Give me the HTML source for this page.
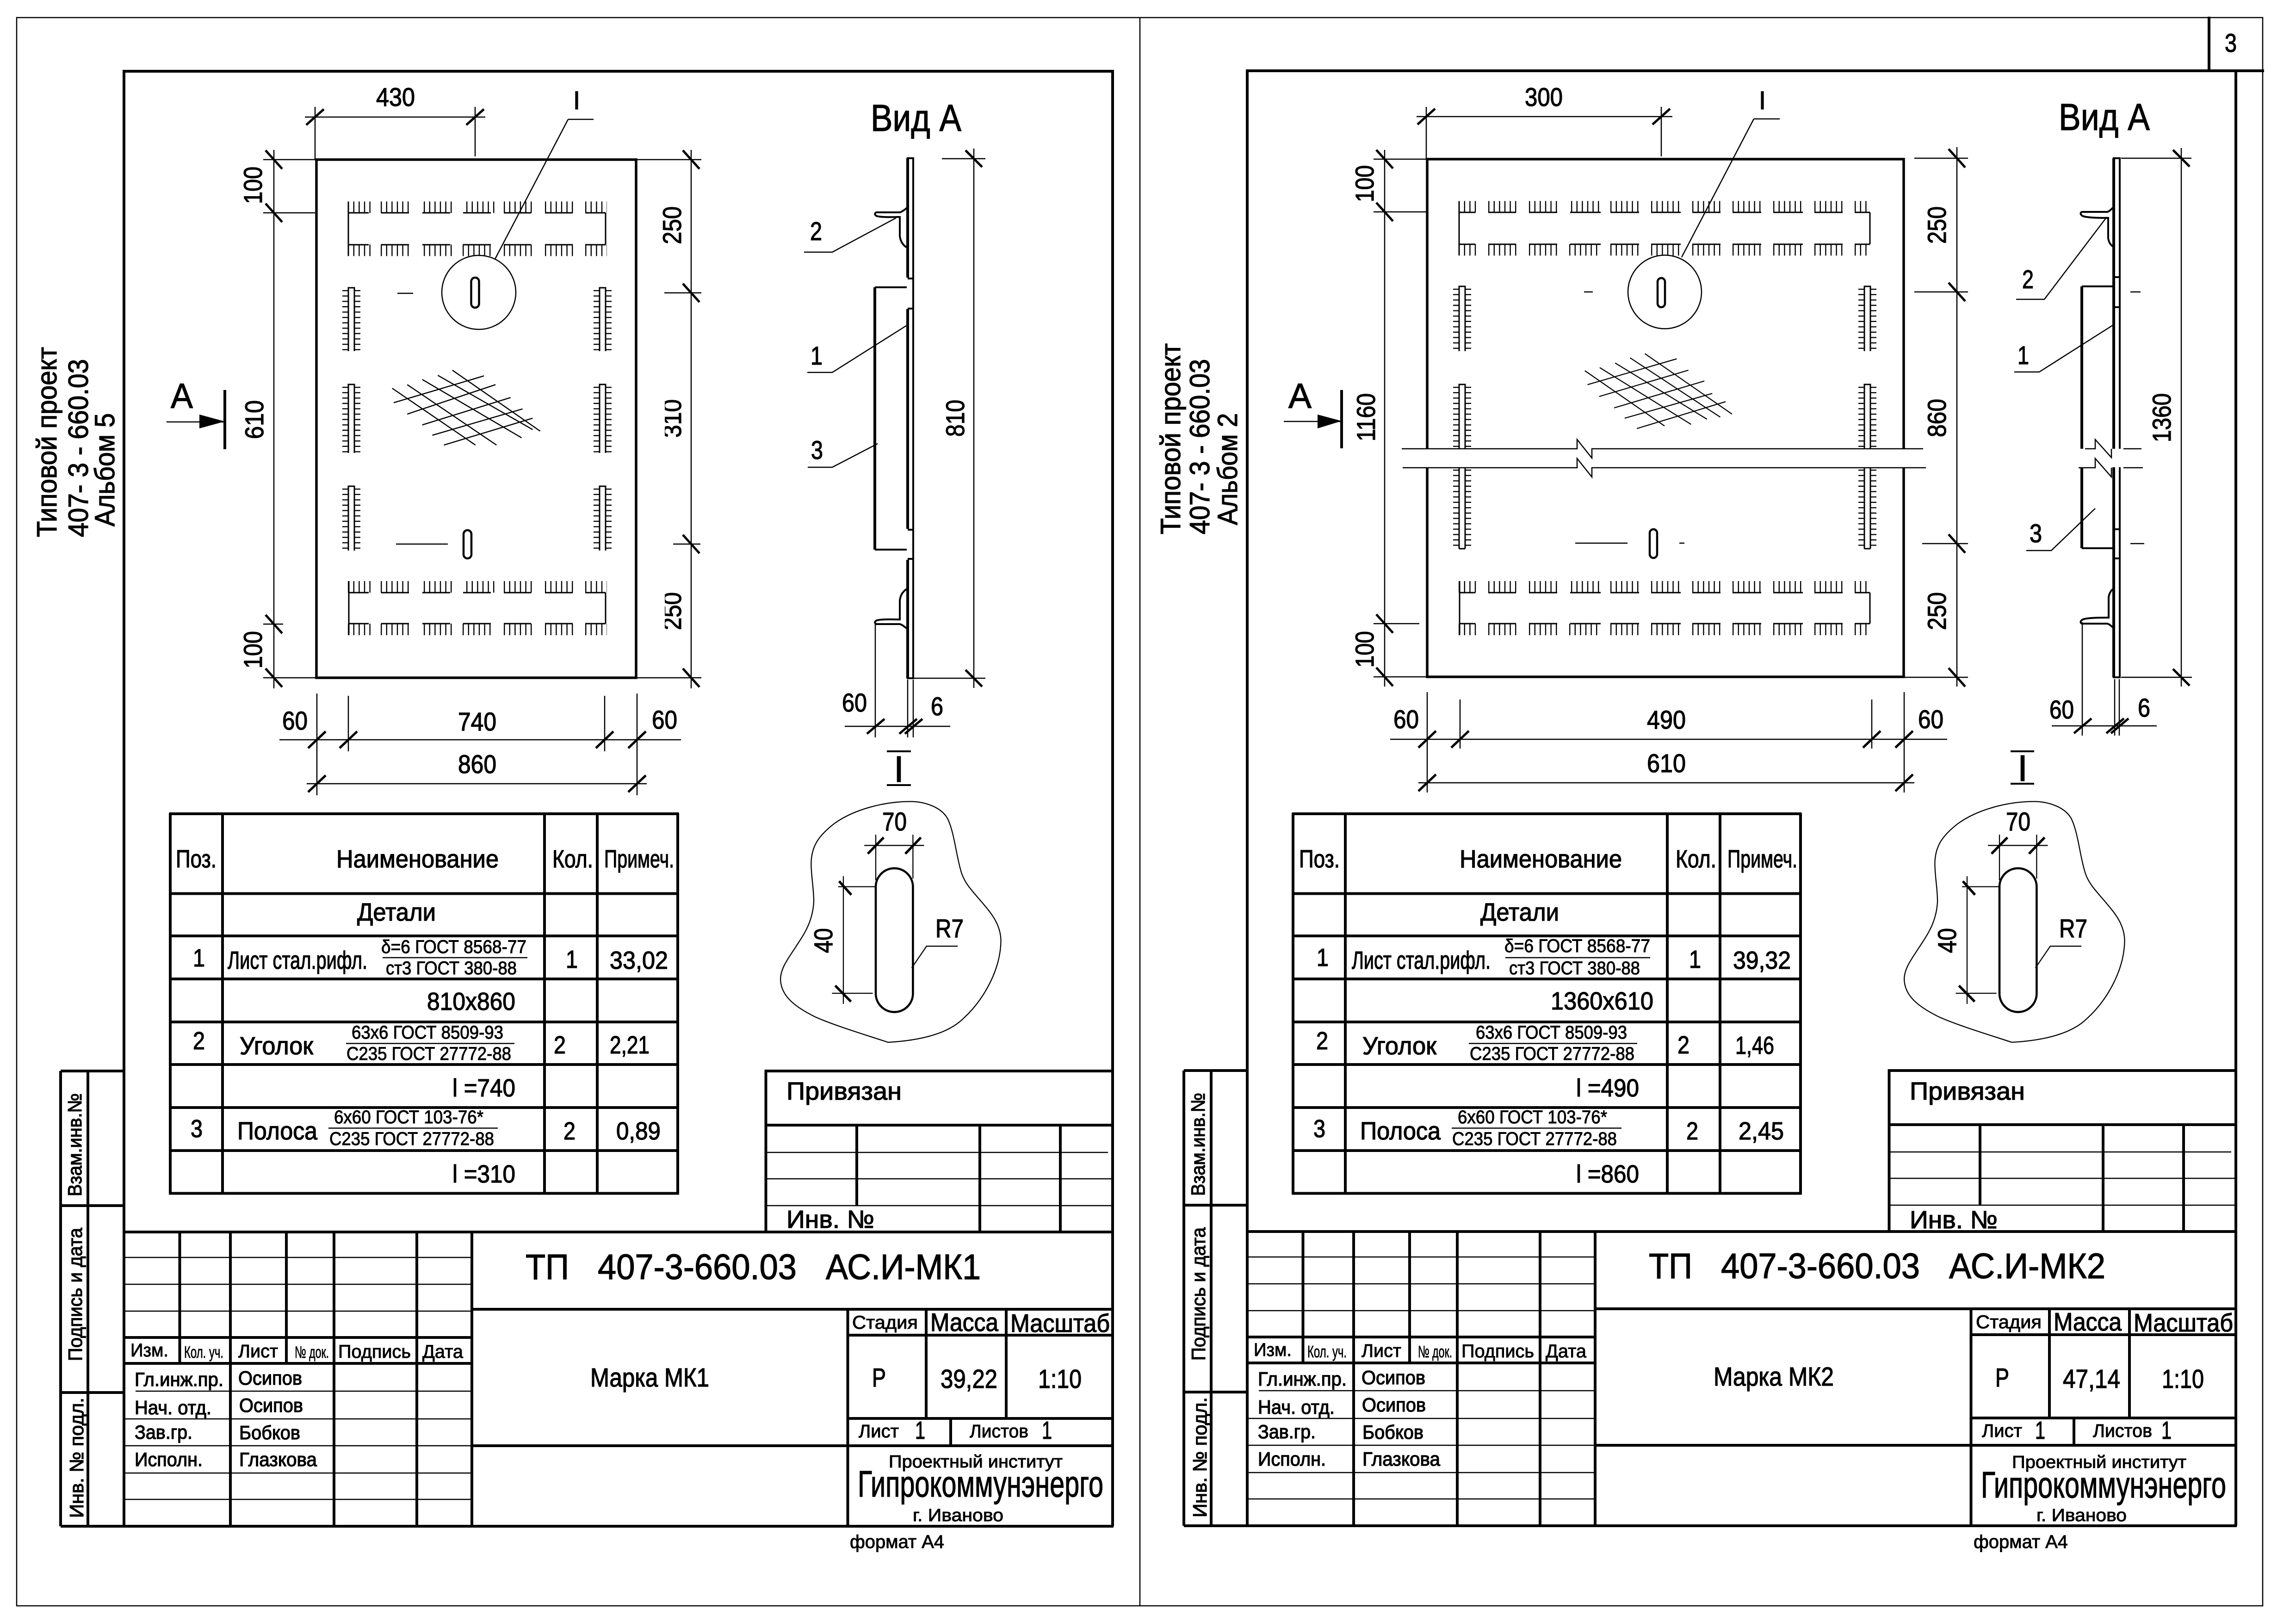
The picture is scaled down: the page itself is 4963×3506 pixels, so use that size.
<!DOCTYPE html>
<html lang="ru"><head><meta charset="utf-8"><title>ТП 407-3-660.03</title>
<style>
html,body{margin:0;padding:0;background:#fff}
svg{display:block}
text{font-family:"Liberation Sans","Noto Sans CJK SC",sans-serif;fill:#000;stroke:#000;stroke-width:1.3}
path,line,circle,rect.o{fill:none;stroke:#000;stroke-width:2.5}
.k{stroke-width:6}
.m{stroke-width:4}
.n{stroke-width:3}
.tk{stroke-width:5}
.d{stroke-width:25;stroke-dasharray:2.4 9.2}
.e{stroke-width:13;stroke-dasharray:2.4 9.2}
.f{fill:#000;stroke:none}
.w{fill:#fff;stroke:none}
.a{font-size:56px}.b{font-size:42px}.c{font-size:40px;stroke-width:1}.g{font-size:54px}.h{font-size:36px;stroke-width:.8}.j{font-size:60px}
</style></head><body>
<svg xmlns="http://www.w3.org/2000/svg" width="4963" height="3506" viewBox="0 0 4963 3506">
<rect width="4963" height="3506" fill="#fff"/>
<defs>
<g id="tbl">
<path class="k" d="M368 1757V2582M481 1757V2582M1177 1757V2582M1291 1757V2582M1465 1757V2582M366 1759H1467M366 1931.500H1467M366 2023H1467M366 2116H1467M366 2209H1467M366 2301H1467M366 2394H1467M366 2487H1467M366 2579.500H1467"/>
</g>
<g id="stamp">
<path class="k" d="M268 3299V154H2405V3299M131 2315V3299M190 2315V3299M131 2315H268M131 2606H268M131 3010H268M131 3299H2407M268 2663H2407M268 2891H1020M268 2947H1020M388.500 2663V2947M498 2663V3299M619 2663V2947M722 2663V3299M901 2663V3299M1020 2663V3299M1020 2830H2407M1020 3125H2407M1832.500 2830V3299M1832.500 2886H2407M1832.500 3066H2407M2002 2830V3066M2175 2830V3066M2055 3066V3125M1655.500 2663V2315H2407M1655.500 2432H2407M1852 2432V2607M2118 2432V2663M2292 2432V2663"/>
<path d="M268 2718H1018M268 2776H1018M268 2834H1018M293 3007H1018M268 3067H1018M268 3125H1018M268 3184H1018M268 3241H1018M1657 2491H2395M1657 2548H2405M1657 2606H2405"/>
</g>
<g id="detail">
<g transform="translate(1650 1700) scale(.3827)">
<path style="stroke-width:6" d="M705 1445C880 1435 1040 1400 1130 1310C1240 1210 1340 1040 1342 870C1340 780 1290 720 1240 660C1180 590 1140 550 1120 490C1090 400 1080 260 1040 180C1000 110 900 85 830 85C680 85 510 130 400 210C310 280 270 340 270 440C272 520 285 580 285 650C280 750 240 820 200 880C150 960 97 1020 97 1090C100 1180 170 1240 290 1300C400 1350 600 1410 705 1445Z"/>
<rect x="635" y="462" width="210" height="812" rx="105" style="fill:none;stroke:#000;stroke-width:12"/>
<path style="stroke-width:6" d="M570 333H908M635 272V530M845 272V520M452 507V1228M423 566H632M388 1168H618M838 1025L922 902H1098"/>
<path style="stroke-width:14" d="M590 380L680 288M802 380L890 288M428 535L497 612M406 1125L495 1215"/>
</g>
</g>
</defs>

<!-- outer sheet -->
<path style="stroke-width:2.500" d="M36 38H4891V3471H36ZM2464 38V3471"/>

<!-- ===== SHEET 1 frames and tables ===== -->
<use href="#stamp"/>
<use href="#tbl"/>
<path d="M827 2070H1140M748 2255.500H1112M710 2438.500H1076"/>

<!-- plate 1 -->
<rect class="o" x="684" y="345" width="691" height="1120" style="stroke-width:5.500"/>
<circle cx="1035" cy="632" r="80"/>
<rect x="1018.500" y="600" width="17" height="65" rx="8.500" style="fill:none;stroke:#000;stroke-width:4.500"/>
<rect x="1002" y="1146" width="17" height="61" rx="8.500" style="fill:none;stroke:#000;stroke-width:4.500"/>
<path d="M859 634H893M856 1176H968M1228 258H1283M1228 258L1070 560"/>
<!-- combs 1 -->
<path class="n" d="M753 460H797M824 460H884M913 460H973M1001 460H1061M1089 460H1148M1178 460H1238M1265 460H1309M753 529H797M824 529H884M913 529H973M1001 529H1061M1089 529H1148M1178 529H1238M1265 529H1309M753 436V553M1309 460V529M753 1281H797M824 1281H884M913 1281H973M1001 1281H1061M1089 1281H1148M1178 1281H1238M1265 1281H1309M753 1348H797M824 1348H884M913 1348H973M1001 1348H1061M1089 1348H1148M1178 1348H1238M1265 1348H1309M754 1256V1373M1309 1281V1348"/>
<path class="d" d="M752 448H801M823 448H885M916 448H977M1008 448H1069M1089 448H1150M1178 448H1240M1265 448H1312M752 541H801M823 541H885M916 541H977M1000 541H1069M1089 541H1150M1178 541H1240M1265 541H1312M752 1268.500H801M823 1268.500H885M916 1268.500H977M1008 1268.500H1069M1089 1268.500H1150M1178 1268.500H1240M1265 1268.500H1312M752 1360.500H801M823 1360.500H885M916 1360.500H977M1000 1360.500H1069M1089 1360.500H1150M1178 1360.500H1240M1265 1360.500H1312"/>
<path class="n" d="M753 759V622H766V759M753 979V831H766V979M753 1190V1051H766V1190M1296 759V622H1309V759M1296 979V831H1309V979M1296 1190V1051H1309V1190"/>
<path class="e" d="M746.500 627V759M772.500 627V759M746.500 836V979M772.500 836V979M746.500 1056V1190M772.500 1056V1190M1289.500 627V759M1315.500 627V759M1289.500 836V979M1315.500 836V979M1289.500 1056V1190M1315.500 1056V1190"/>
<!-- grid 1 -->
<g transform="scale(1.0841 1.116)"><path style="stroke-width:2.200" d="M782 752L948 862M812 745L990 862M842 735L1040 848M873 727L1062 832M902 717L1077 835M785 780L965 728M812 802L988 745M842 823L1018 770M862 843L1042 792M885 862L1062 810"/></g>
<!-- dims 1 -->
<path d="M659 253H1049M681 231V345M1027 231V338M592 324V1488M569 345H684M569 460H681M569 1349H612M569 1465H684M1494 324V1488M1375 345H1516M1436 633H1516M1455 1176H1514M1375 1465H1516M604 1599H1472M663 1694H1398M685 1499V1719M753 1504V1624M1307 1504V1624M1377 1499V1719M360 912H486"/>
<path class="tk" d="M662 270L700 236M1008 270L1046 236M574 325L610 365M574 440L610 480M574 1329L610 1369M574 1445L610 1485M1476 325L1512 365M1476 613L1512 653M1476 1156L1512 1196M1476 1445L1512 1485M666 1617L704 1581M734 1617L772 1581M1288 1617L1326 1581M1358 1617L1396 1581M666 1712L704 1676M1358 1712L1396 1676"/>
<path class="k" d="M486 843V971"/>
<path class="f" d="M431 896L486 911L431 926Z"/>
<!-- view A 1 -->
<path class="k" d="M1962 342V600M1962 668V1143M1962 1210V1466M1891 621V1188"/>
<path class="m" d="M1974 342V1466M1960 342H1976M1960 1466H1976M1962 602H1974M1962 667H1974M1962 1145H1974M1962 1208H1974M1891 621H1960M1891 1188H1960"/>
<path class="m" d="M1962 448Q1950 458 1945 459L1894 459Q1888 463 1895 467Q1905 470 1940 469L1945 469V510Q1947 528 1962 536"/>
<path class="m" d="M1962 1360Q1950 1350 1945 1349L1894 1349Q1888 1345 1895 1341Q1905 1338 1940 1339L1945 1339V1298Q1947 1280 1962 1272"/>
<path d="M2105 321V1487M2036 343H2130M1974 1466H2130M1826 1570H2054M1892 1349V1594M1962 1469V1594M1974 1469V1594M1738 545H1799L1937 471M1745 805H1799L1959 704M1746 1010H1799L1897 959"/>
<path class="tk" d="M2087 325L2123 361M2087 1448L2123 1484M1874 1586L1912 1554M1944 1586L1982 1554M1956 1586L1994 1554"/>
<path class="m" d="M1917 1624H1969M1917 1697H1969"/>
<use href="#detail"/>

<!-- ===== SHEET 2 frames and tables ===== -->
<use href="#stamp" transform="translate(2428 -1)"/>
<use href="#tbl" transform="translate(2427 0)"/>
<path d="M3254 2070H3567M3175 2255.500H3539M3138 2438.500H3505"/>
<path class="k" d="M4833 153H4894M4775 36V153"/>
<!-- plate 2 -->
<path style="stroke-width:5.500" d="M3085 969V344H4115V969M3085 1010V1463H4115V1010"/>
<circle cx="3598.500" cy="631" r="79.500"/>
<rect x="3583" y="601" width="16" height="63" rx="8" style="fill:none;stroke:#000;stroke-width:4.500"/>
<rect x="3566" y="1144" width="16" height="62" rx="8" style="fill:none;stroke:#000;stroke-width:4.500"/>
<path d="M3424 631H3443M3405 1174H3518M3630 1174H3641M3791 257H3847M3791 257L3635 556"/>
<path d="M3030 970H3409V950L3441 990V970H4157M3032 1011H3409V991L3441 1031V1011H4163"/>
<!-- combs 2 -->
<path class="n" d="M3154 459H3189M3217 459H3277M3305 459H3366M3394 459H3460M3481 459H3543M3569 459H3633M3658 459H3719M3745 459H3807M3833 459H3897M3922 459H3983M4009 459H4042M3154 528H3189M3217 528H3277M3305 528H3366M3394 528H3460M3481 528H3543M3569 528H3633M3658 528H3719M3745 528H3807M3833 528H3897M3922 528H3983M4009 528H4042M3154 435V552M4042 459V528M3154 1281H3189M3217 1281H3277M3305 1281H3366M3394 1281H3460M3481 1281H3543M3569 1281H3633M3658 1281H3719M3745 1281H3807M3833 1281H3897M3922 1281H3983M4009 1281H4042M3154 1348H3189M3217 1348H3277M3305 1348H3366M3394 1348H3460M3481 1348H3543M3569 1348H3633M3658 1348H3719M3745 1348H3807M3833 1348H3897M3922 1348H3983M4009 1348H4042M3155 1256V1373M4042 1281V1348"/>
<path class="d" d="M3153 447H3191M3217 447H3279M3305 447H3368M3396 447H3460M3481 447H3543M3569 447H3633M3658 447H3721M3745 447H3807M3833 447H3897M3922 447H3985M4009 447H4035M3153 540H3191M3217 540H3279M3305 540H3368M3392 540H3460M3481 540H3543M3569 540H3633M3658 540H3721M3745 540H3807M3833 540H3897M3922 540H3985M4009 540H4035M3153 1268.500H3191M3217 1268.500H3279M3305 1268.500H3368M3396 1268.500H3460M3481 1268.500H3543M3569 1268.500H3633M3658 1268.500H3721M3745 1268.500H3807M3833 1268.500H3897M3922 1268.500H3985M4009 1268.500H4035M3153 1360.500H3191M3217 1360.500H3279M3305 1360.500H3368M3392 1360.500H3460M3481 1360.500H3543M3569 1360.500H3633M3658 1360.500H3721M3745 1360.500H3807M3833 1360.500H3897M3922 1360.500H3985M4009 1360.500H4035"/>
<path class="n" d="M3154 759V619H3167V759M3154 969V831H3167V969M3154 1186V1011M3167 1186V1011M3154 1186H3167M4030 759V619H4043V759M4030 969V831H4043V969M4030 1186V1011M4043 1186V1011M4030 1186H4043"/>
<path class="e" d="M3147.500 624V759M3173.500 624V759M3147.500 836V969M3173.500 836V969M3147.500 1015V1186M3173.500 1015V1186M4023.500 624V759M4049.500 624V759M4023.500 836V969M4049.500 836V969M4023.500 1015V1186M4049.500 1015V1186"/>
<!-- grid 2 -->
<g transform="translate(2450 0) scale(1.148 1.116)"><path style="stroke-width:2" d="M850 718L1000 825M878 712L1050 822M907 703L1080 812M935 693L1105 808M963 685L1127 802M948 830L1115 778M925 810L1090 762M905 790L1075 738M877 768L1045 717M855 745L1023 695"/></g>
<!-- dims 2 -->
<path d="M3062 252H3615M3083 231V344M3591 231V338M2993 324V1484M2969 344H3085M2969 458H3084M2969 1348H3068M2969 1463H3085M4230 318V1484M4138 342H4254M4138 631H4254M4155 1175H4254M4115 1464H4254M3005 1598H4209M3066 1692H4138M3085 1496V1713M3156 1512V1618M4046 1512V1618M4116 1496V1713M2775 911H2900"/>
<path class="tk" d="M3064 269L3102 235M3572 269L3610 235M2975 324L3011 364M2975 438L3011 478M2975 1328L3011 1368M2975 1443L3011 1483M4212 322L4248 362M4212 611L4248 651M4212 1155L4248 1195M4212 1444L4248 1484M3066 1616L3104 1580M3137 1616L3175 1580M4027 1616L4065 1580M4097 1616L4135 1580M3066 1710L3104 1674M4097 1710L4135 1674"/>
<path class="k" d="M2900 843V969"/>
<path class="f" d="M2848 896L2900 910L2848 926Z"/>
<!-- view A 2 -->
<path class="k" d="M4569 342V970M4569 1010V1464M4500 619V970M4500 1010V1185"/>
<path class="m" d="M4582 342V970M4582 1010V1464M4567 342H4584M4567 1464H4584M4569 599H4582M4569 664H4582M4569 1144H4582M4569 1207H4582M4500 619H4567M4500 1185H4567"/>
<path class="m" d="M4569 447Q4560 457 4555 458L4500 458Q4494 462 4502 467Q4512 471 4552 471L4557 471V515Q4559 528 4569 534"/>
<path class="m" d="M4569 1358Q4560 1349 4555 1348L4500 1348Q4494 1344 4502 1339Q4512 1335 4552 1335L4558 1335V1291Q4560 1278 4569 1272"/>
<path d="M4507 970H4529V950L4564 989V970M4590 970H4629M4493 1011H4529V991L4564 1031V1011M4590 1011H4632M4715 320V1484M4585 342H4737M4585 1464H4738M4605 631H4627M4605 1175H4635M4435 1569H4662M4501 1345V1590M4571 1468V1590M4581 1468V1590M4358 647H4419L4554 469M4354 804H4408L4567 703M4380 1190H4434L4529 1099"/>
<path class="tk" d="M4697 324L4733 360M4697 1446L4733 1482M4483 1585L4521 1553M4553 1585L4591 1553M4563 1585L4601 1553"/>
<path class="m" d="M4346 1624H4397M4346 1694H4397"/>
<use href="#detail" transform="translate(2429 0)"/>

<!-- ===== TEXT SHEET 1 ===== -->
<g>
<text class="j" transform="rotate(-90 122 1161)" x="122" y="1161" textLength="411" lengthAdjust="spacingAndGlyphs">Типовой проект</text>
<text class="j" transform="rotate(-90 190 1161)" x="190" y="1161" textLength="385" lengthAdjust="spacingAndGlyphs">407- 3 - 660.03</text>
<text class="j" transform="rotate(-90 247 1138)" x="247" y="1138" textLength="245" lengthAdjust="spacingAndGlyphs">Альбом 5</text>
<text style="font-size:76px" x="369" y="882" textLength="48" lengthAdjust="spacingAndGlyphs">А</text>
<text class="a" x="813" y="229" textLength="84" lengthAdjust="spacingAndGlyphs">430</text>
<text class="a" x="1239" y="236" textLength="15" lengthAdjust="spacingAndGlyphs">I</text>
<text class="a" transform="rotate(-90 566 441)" x="566" y="441" textLength="81" lengthAdjust="spacingAndGlyphs">100</text>
<text class="a" transform="rotate(-90 569 949)" x="569" y="949" textLength="84" lengthAdjust="spacingAndGlyphs">610</text>
<text class="a" transform="rotate(-90 566 1445)" x="566" y="1445" textLength="81" lengthAdjust="spacingAndGlyphs">100</text>
<text class="a" transform="rotate(-90 1472 528)" x="1472" y="528" textLength="82" lengthAdjust="spacingAndGlyphs">250</text>
<text class="a" x="610" y="1577" textLength="55" lengthAdjust="spacingAndGlyphs">60</text>
<text class="a" x="990" y="1579" textLength="83" lengthAdjust="spacingAndGlyphs">740</text>
<text class="a" x="1409" y="1575" textLength="55" lengthAdjust="spacingAndGlyphs">60</text>
<text class="a" x="990" y="1671" textLength="83" lengthAdjust="spacingAndGlyphs">860</text>
<text style="font-size:82px" x="1882" y="283" textLength="196" lengthAdjust="spacingAndGlyphs">Вид А</text>
<text class="a" x="1751" y="519" textLength="26" lengthAdjust="spacingAndGlyphs">2</text>
<text class="a" x="1752" y="788" textLength="26" lengthAdjust="spacingAndGlyphs">1</text>
<text class="a" x="1753" y="992" textLength="26" lengthAdjust="spacingAndGlyphs">3</text>
<text class="a" transform="rotate(-90 2084 944)" x="2084" y="944" textLength="80" lengthAdjust="spacingAndGlyphs">810</text>
<text class="a" x="1820" y="1538" textLength="54" lengthAdjust="spacingAndGlyphs">60</text>
<text class="a" x="2012" y="1546" textLength="27" lengthAdjust="spacingAndGlyphs">6</text>
<text style="font-size:80px" x="1932" y="1690" textLength="22" lengthAdjust="spacingAndGlyphs">I</text>
<text class="a" x="1907" y="1795" textLength="53" lengthAdjust="spacingAndGlyphs">70</text>
<text class="a" transform="rotate(-90 1799 2060)" x="1799" y="2060" textLength="54" lengthAdjust="spacingAndGlyphs">40</text>
<text class="a" x="2022" y="2026" textLength="61" lengthAdjust="spacingAndGlyphs">R7</text>
<!-- table 1 -->
<text class="g" x="380" y="1875" textLength="88" lengthAdjust="spacingAndGlyphs">Поз.</text>
<text class="g" x="727" y="1875" textLength="351" lengthAdjust="spacingAndGlyphs">Наименование</text>
<text class="g" x="1194" y="1875" textLength="88" lengthAdjust="spacingAndGlyphs">Кол.</text>
<text class="g" x="1306" y="1875" textLength="151" lengthAdjust="spacingAndGlyphs">Примеч.</text>
<text class="g" x="772" y="1990" textLength="170" lengthAdjust="spacingAndGlyphs">Детали</text>
<text class="g" x="417" y="2089" textLength="26" lengthAdjust="spacingAndGlyphs">1</text>
<text class="g" x="492" y="2094" textLength="302" lengthAdjust="spacingAndGlyphs">Лист стал.рифл.</text>
<text class="c" x="824" y="2060" textLength="314" lengthAdjust="spacingAndGlyphs">δ=6 ГОСТ 8568-77</text>
<text class="c" x="834" y="2106" textLength="283" lengthAdjust="spacingAndGlyphs">ст3 ГОСТ 380-88</text>
<text class="g" x="1223" y="2092" textLength="26" lengthAdjust="spacingAndGlyphs">1</text>
<text class="g" x="1318" y="2094" textLength="126" lengthAdjust="spacingAndGlyphs">33,02</text>
<text class="g" x="923" y="2183" textLength="191" lengthAdjust="spacingAndGlyphs">810х860</text>
<text class="g" x="417" y="2268" textLength="26" lengthAdjust="spacingAndGlyphs">2</text>
<text class="g" x="518" y="2279" textLength="159" lengthAdjust="spacingAndGlyphs">Уголок</text>
<text class="c" x="760" y="2245" textLength="328" lengthAdjust="spacingAndGlyphs">63х6 ГОСТ 8509-93</text>
<text class="c" x="749" y="2291" textLength="356" lengthAdjust="spacingAndGlyphs">С235 ГОСТ 27772-88</text>
<text class="g" x="1197" y="2277" textLength="26" lengthAdjust="spacingAndGlyphs">2</text>
<text class="g" x="1318" y="2277" textLength="86" lengthAdjust="spacingAndGlyphs">2,21</text>
<text class="g" x="978" y="2370" textLength="136" lengthAdjust="spacingAndGlyphs">l =740</text>
<text class="g" x="412" y="2458" textLength="26" lengthAdjust="spacingAndGlyphs">3</text>
<text class="g" x="513" y="2463" textLength="173" lengthAdjust="spacingAndGlyphs">Полоса</text>
<text class="c" x="722" y="2428" textLength="323" lengthAdjust="spacingAndGlyphs">6х60 ГОСТ 103-76*</text>
<text class="c" x="712" y="2475" textLength="356" lengthAdjust="spacingAndGlyphs">С235 ГОСТ 27772-88</text>
<text class="g" x="1218" y="2463" textLength="26" lengthAdjust="spacingAndGlyphs">2</text>
<text class="g" x="1332" y="2463" textLength="96" lengthAdjust="spacingAndGlyphs">0,89</text>
<text class="g" x="978" y="2556" textLength="136" lengthAdjust="spacingAndGlyphs">l =310</text>
<!-- strip 1 -->
<text class="b" transform="rotate(-90 176 2586)" x="176" y="2586" textLength="223" lengthAdjust="spacingAndGlyphs">Взам.инв.№</text>
<text class="b" transform="rotate(-90 177 2942)" x="177" y="2942" textLength="288" lengthAdjust="spacingAndGlyphs">Подпись и дата</text>
<text class="b" transform="rotate(-90 180 3281)" x="180" y="3281" textLength="260" lengthAdjust="spacingAndGlyphs">Инв. №  подл.</text>
<!-- stamp 1 -->
<text class="c" x="282" y="2932" textLength="82" lengthAdjust="spacingAndGlyphs">Изм.</text>
<text class="h" x="398" y="2935" textLength="85" lengthAdjust="spacingAndGlyphs">Кол. уч.</text>
<text class="c" x="515" y="2934" textLength="86" lengthAdjust="spacingAndGlyphs">Лист</text>
<text class="h" x="637" y="2935" textLength="74" lengthAdjust="spacingAndGlyphs">№ док.</text>
<text class="c" x="731" y="2935" textLength="157" lengthAdjust="spacingAndGlyphs">Подпись</text>
<text class="c" x="913" y="2935" textLength="88" lengthAdjust="spacingAndGlyphs">Дата</text>
<text class="b" x="291" y="2996" textLength="192" lengthAdjust="spacingAndGlyphs">Гл.инж.пр.</text>
<text class="b" x="515" y="2993" textLength="138" lengthAdjust="spacingAndGlyphs">Осипов</text>
<text class="b" x="291" y="3057" textLength="166" lengthAdjust="spacingAndGlyphs">Нач. отд.</text>
<text class="b" x="517" y="3052" textLength="138" lengthAdjust="spacingAndGlyphs">Осипов</text>
<text class="b" x="291" y="3110" textLength="125" lengthAdjust="spacingAndGlyphs">Зав.гр.</text>
<text class="b" x="517" y="3111" textLength="132" lengthAdjust="spacingAndGlyphs">Бобков</text>
<text class="b" x="291" y="3169" textLength="147" lengthAdjust="spacingAndGlyphs">Исполн.</text>
<text class="b" x="517" y="3169" textLength="168" lengthAdjust="spacingAndGlyphs">Глазкова</text>
<!-- title 1 -->
<text class="g" x="1700" y="2377" textLength="249" lengthAdjust="spacingAndGlyphs">Привязан</text>
<text class="g" x="1700" y="2654" textLength="190" lengthAdjust="spacingAndGlyphs">Инв. №</text>
<text style="font-size:77px" x="1136" y="2765" textLength="94" lengthAdjust="spacingAndGlyphs">ТП</text>
<text style="font-size:77px" x="1292" y="2765" textLength="430" lengthAdjust="spacingAndGlyphs">407-3-660.03</text>
<text style="font-size:77px" x="1785" y="2765" textLength="335" lengthAdjust="spacingAndGlyphs">АС.И-МК1</text>
<text style="font-size:57px" x="1276" y="2997" textLength="257" lengthAdjust="spacingAndGlyphs">Марка МК1</text>
<text class="c" x="1842" y="2872" textLength="142" lengthAdjust="spacingAndGlyphs">Стадия</text>
<text style="font-size:55px" x="2011" y="2877" textLength="147" lengthAdjust="spacingAndGlyphs">Масса</text>
<text style="font-size:55px" x="2184" y="2879" textLength="215" lengthAdjust="spacingAndGlyphs">Масштаб</text>
<text style="font-size:57px" x="1885" y="2997" textLength="30" lengthAdjust="spacingAndGlyphs">Р</text>
<text style="font-size:57px" x="2033" y="3000" textLength="123" lengthAdjust="spacingAndGlyphs">39,22</text>
<text style="font-size:57px" x="2244" y="3000" textLength="94" lengthAdjust="spacingAndGlyphs">1:10</text>
<text class="c" x="1856" y="3107" textLength="87" lengthAdjust="spacingAndGlyphs">Лист</text>
<text class="g" x="1978" y="3110" textLength="22" lengthAdjust="spacingAndGlyphs">1</text>
<text class="c" x="2096" y="3107" textLength="127" lengthAdjust="spacingAndGlyphs">Листов</text>
<text class="g" x="2252" y="3110" textLength="22" lengthAdjust="spacingAndGlyphs">1</text>
<text style="font-size:38px;stroke-width:1" x="1921" y="3172" textLength="376" lengthAdjust="spacingAndGlyphs">Проектный институт</text>
<text style="font-size:80px" x="1854" y="3235" textLength="531" lengthAdjust="spacingAndGlyphs">Гипрокоммунэнерго</text>
<text style="font-size:38px;stroke-width:1" x="1973" y="3288" textLength="196" lengthAdjust="spacingAndGlyphs">г. Иваново</text>
<text class="c" x="1837" y="3346" textLength="204" lengthAdjust="spacingAndGlyphs">формат А4</text>
</g>

<!-- ===== TEXT SHEET 2 ===== -->
<g>
<text class="j" transform="rotate(-90 2551 1155)" x="2551" y="1155" textLength="413" lengthAdjust="spacingAndGlyphs">Типовой проект</text>
<text class="j" transform="rotate(-90 2614 1155)" x="2614" y="1155" textLength="379" lengthAdjust="spacingAndGlyphs">407- 3 - 660.03</text>
<text class="j" transform="rotate(-90 2674 1135)" x="2674" y="1135" textLength="242" lengthAdjust="spacingAndGlyphs">Альбом 2</text>
<text style="font-size:76px" x="2785" y="882" textLength="50" lengthAdjust="spacingAndGlyphs">А</text>
<text class="a" x="3296" y="229" textLength="82" lengthAdjust="spacingAndGlyphs">300</text>
<text class="a" x="3802" y="236" textLength="15" lengthAdjust="spacingAndGlyphs">I</text>
<text class="a" transform="rotate(-90 2969 437)" x="2969" y="437" textLength="80" lengthAdjust="spacingAndGlyphs">100</text>
<text class="a" transform="rotate(-90 2972 954)" x="2972" y="954" textLength="104" lengthAdjust="spacingAndGlyphs">1160</text>
<text class="a" transform="rotate(-90 2969 1443)" x="2969" y="1443" textLength="79" lengthAdjust="spacingAndGlyphs">100</text>
<text class="a" transform="rotate(-90 4206 527)" x="4206" y="527" textLength="81" lengthAdjust="spacingAndGlyphs">250</text>
<text class="a" transform="rotate(-90 4206 945)" x="4206" y="945" textLength="83" lengthAdjust="spacingAndGlyphs">860</text>
<text class="a" transform="rotate(-90 4206 1362)" x="4206" y="1362" textLength="82" lengthAdjust="spacingAndGlyphs">250</text>
<text class="a" x="3012" y="1574" textLength="55" lengthAdjust="spacingAndGlyphs">60</text>
<text class="a" x="3560" y="1575" textLength="84" lengthAdjust="spacingAndGlyphs">490</text>
<text class="a" x="4146" y="1574" textLength="55" lengthAdjust="spacingAndGlyphs">60</text>
<text class="a" x="3560" y="1669" textLength="84" lengthAdjust="spacingAndGlyphs">610</text>
<text style="font-size:82px" x="4450" y="281" textLength="197" lengthAdjust="spacingAndGlyphs">Вид А</text>
<text class="a" x="4371" y="623" textLength="25" lengthAdjust="spacingAndGlyphs">2</text>
<text class="a" x="4361" y="787" textLength="25" lengthAdjust="spacingAndGlyphs">1</text>
<text class="a" x="4387" y="1172" textLength="27" lengthAdjust="spacingAndGlyphs">3</text>
<text class="a" transform="rotate(-90 4692 956)" x="4692" y="956" textLength="106" lengthAdjust="spacingAndGlyphs">1360</text>
<text class="a" x="4430" y="1553" textLength="53" lengthAdjust="spacingAndGlyphs">60</text>
<text class="a" x="4621" y="1549" textLength="27" lengthAdjust="spacingAndGlyphs">6</text>
<text style="font-size:80px" x="4361" y="1688" textLength="22" lengthAdjust="spacingAndGlyphs">I</text>
<text class="a" x="4336" y="1795" textLength="53" lengthAdjust="spacingAndGlyphs">70</text>
<text class="a" transform="rotate(-90 4228 2060)" x="4228" y="2060" textLength="54" lengthAdjust="spacingAndGlyphs">40</text>
<text class="a" x="4451" y="2026" textLength="61" lengthAdjust="spacingAndGlyphs">R7</text>
<text class="a" x="4809" y="112" textLength="26" lengthAdjust="spacingAndGlyphs">3</text>
<!-- table 2 -->
<text class="g" x="2808" y="1875" textLength="88" lengthAdjust="spacingAndGlyphs">Поз.</text>
<text class="g" x="3155" y="1875" textLength="351" lengthAdjust="spacingAndGlyphs">Наименование</text>
<text class="g" x="3622" y="1875" textLength="88" lengthAdjust="spacingAndGlyphs">Кол.</text>
<text class="g" x="3734" y="1875" textLength="151" lengthAdjust="spacingAndGlyphs">Примеч.</text>
<text class="g" x="3200" y="1990" textLength="170" lengthAdjust="spacingAndGlyphs">Детали</text>
<text class="g" x="2846" y="2088" textLength="26" lengthAdjust="spacingAndGlyphs">1</text>
<text class="g" x="2922" y="2094" textLength="300" lengthAdjust="spacingAndGlyphs">Лист стал.рифл.</text>
<text class="c" x="3252" y="2058" textLength="315" lengthAdjust="spacingAndGlyphs">δ=6 ГОСТ 8568-77</text>
<text class="c" x="3262" y="2106" textLength="283" lengthAdjust="spacingAndGlyphs">ст3 ГОСТ 380-88</text>
<text class="g" x="3651" y="2092" textLength="26" lengthAdjust="spacingAndGlyphs">1</text>
<text class="g" x="3746" y="2094" textLength="125" lengthAdjust="spacingAndGlyphs">39,32</text>
<text class="g" x="3352" y="2182" textLength="222" lengthAdjust="spacingAndGlyphs">1360х610</text>
<text class="g" x="2845" y="2268" textLength="26" lengthAdjust="spacingAndGlyphs">2</text>
<text class="g" x="2945" y="2279" textLength="160" lengthAdjust="spacingAndGlyphs">Уголок</text>
<text class="c" x="3190" y="2245" textLength="327" lengthAdjust="spacingAndGlyphs">63х6 ГОСТ 8509-93</text>
<text class="c" x="3177" y="2291" textLength="356" lengthAdjust="spacingAndGlyphs">С235 ГОСТ 27772-88</text>
<text class="g" x="3626" y="2277" textLength="26" lengthAdjust="spacingAndGlyphs">2</text>
<text class="g" x="3751" y="2278" textLength="84" lengthAdjust="spacingAndGlyphs">1,46</text>
<text class="g" x="3407" y="2370" textLength="136" lengthAdjust="spacingAndGlyphs">l =490</text>
<text class="g" x="2839" y="2458" textLength="26" lengthAdjust="spacingAndGlyphs">3</text>
<text class="g" x="2940" y="2463" textLength="174" lengthAdjust="spacingAndGlyphs">Полоса</text>
<text class="c" x="3151" y="2428" textLength="323" lengthAdjust="spacingAndGlyphs">6х60 ГОСТ 103-76*</text>
<text class="c" x="3139" y="2475" textLength="356" lengthAdjust="spacingAndGlyphs">С235 ГОСТ 27772-88</text>
<text class="g" x="3645" y="2463" textLength="26" lengthAdjust="spacingAndGlyphs">2</text>
<text class="g" x="3758" y="2463" textLength="98" lengthAdjust="spacingAndGlyphs">2,45</text>
<text class="g" x="3407" y="2556" textLength="136" lengthAdjust="spacingAndGlyphs">l =860</text>
<!-- strip 2 -->
<text class="b" transform="rotate(-90 2604 2585)" x="2604" y="2585" textLength="223" lengthAdjust="spacingAndGlyphs">Взам.инв.№</text>
<text class="b" transform="rotate(-90 2605 2941)" x="2605" y="2941" textLength="288" lengthAdjust="spacingAndGlyphs">Подпись и дата</text>
<text class="b" transform="rotate(-90 2608 3280)" x="2608" y="3280" textLength="260" lengthAdjust="spacingAndGlyphs">Инв. №  подл.</text>
<!-- stamp 2 -->
<text class="c" x="2710" y="2931" textLength="82" lengthAdjust="spacingAndGlyphs">Изм.</text>
<text class="h" x="2826" y="2934" textLength="85" lengthAdjust="spacingAndGlyphs">Кол. уч.</text>
<text class="c" x="2943" y="2933" textLength="86" lengthAdjust="spacingAndGlyphs">Лист</text>
<text class="h" x="3065" y="2934" textLength="74" lengthAdjust="spacingAndGlyphs">№ док.</text>
<text class="c" x="3159" y="2934" textLength="157" lengthAdjust="spacingAndGlyphs">Подпись</text>
<text class="c" x="3341" y="2934" textLength="88" lengthAdjust="spacingAndGlyphs">Дата</text>
<text class="b" x="2719" y="2995" textLength="192" lengthAdjust="spacingAndGlyphs">Гл.инж.пр.</text>
<text class="b" x="2943" y="2992" textLength="138" lengthAdjust="spacingAndGlyphs">Осипов</text>
<text class="b" x="2719" y="3056" textLength="166" lengthAdjust="spacingAndGlyphs">Нач. отд.</text>
<text class="b" x="2944" y="3051" textLength="138" lengthAdjust="spacingAndGlyphs">Осипов</text>
<text class="b" x="2719" y="3109" textLength="125" lengthAdjust="spacingAndGlyphs">Зав.гр.</text>
<text class="b" x="2945" y="3110" textLength="132" lengthAdjust="spacingAndGlyphs">Бобков</text>
<text class="b" x="2719" y="3168" textLength="147" lengthAdjust="spacingAndGlyphs">Исполн.</text>
<text class="b" x="2945" y="3168" textLength="168" lengthAdjust="spacingAndGlyphs">Глазкова</text>
<!-- title 2 -->
<text class="g" x="4128" y="2377" textLength="249" lengthAdjust="spacingAndGlyphs">Привязан</text>
<text class="g" x="4128" y="2655" textLength="190" lengthAdjust="spacingAndGlyphs">Инв. №</text>
<text style="font-size:77px" x="3564" y="2763" textLength="94" lengthAdjust="spacingAndGlyphs">ТП</text>
<text style="font-size:77px" x="3720" y="2763" textLength="430" lengthAdjust="spacingAndGlyphs">407-3-660.03</text>
<text style="font-size:77px" x="4213" y="2763" textLength="338" lengthAdjust="spacingAndGlyphs">АС.И-МК2</text>
<text style="font-size:57px" x="3704" y="2995" textLength="260" lengthAdjust="spacingAndGlyphs">Марка МК2</text>
<text class="c" x="4271" y="2871" textLength="142" lengthAdjust="spacingAndGlyphs">Стадия</text>
<text style="font-size:55px" x="4439" y="2876" textLength="147" lengthAdjust="spacingAndGlyphs">Масса</text>
<text style="font-size:55px" x="4612" y="2878" textLength="215" lengthAdjust="spacingAndGlyphs">Масштаб</text>
<text style="font-size:57px" x="4313" y="2997" textLength="30" lengthAdjust="spacingAndGlyphs">Р</text>
<text style="font-size:57px" x="4459" y="3000" textLength="124" lengthAdjust="spacingAndGlyphs">47,14</text>
<text style="font-size:57px" x="4673" y="3000" textLength="91" lengthAdjust="spacingAndGlyphs">1:10</text>
<text class="c" x="4284" y="3106" textLength="87" lengthAdjust="spacingAndGlyphs">Лист</text>
<text class="g" x="4399" y="3110" textLength="22" lengthAdjust="spacingAndGlyphs">1</text>
<text class="c" x="4524" y="3106" textLength="128" lengthAdjust="spacingAndGlyphs">Листов</text>
<text class="g" x="4672" y="3110" textLength="22" lengthAdjust="spacingAndGlyphs">1</text>
<text style="font-size:38px;stroke-width:1" x="4349" y="3173" textLength="377" lengthAdjust="spacingAndGlyphs">Проектный институт</text>
<text style="font-size:80px" x="4282" y="3237" textLength="530" lengthAdjust="spacingAndGlyphs">Гипрокоммунэнерго</text>
<text style="font-size:38px;stroke-width:1" x="4402" y="3288" textLength="195" lengthAdjust="spacingAndGlyphs">г. Иваново</text>
<text class="c" x="4266" y="3346" textLength="204" lengthAdjust="spacingAndGlyphs">формат А4</text>
</g>

<!-- sheet-1 rotated text cut by a white band, as in the original scan -->
<text class="a" transform="rotate(-90 1472 946)" x="1472" y="946" textLength="83" lengthAdjust="spacingAndGlyphs">310</text>
<text class="a" transform="rotate(-90 1472 1362)" x="1472" y="1362" textLength="82" lengthAdjust="spacingAndGlyphs">250</text>
<rect class="w" x="1425" y="860" width="12" height="90"/><rect class="w" x="1425" y="1276" width="12" height="90"/>
<rect class="w" transform="translate(1650 1700) scale(.3827)" x="280" y="788" width="120" height="16"/>
</svg>
</body></html>
